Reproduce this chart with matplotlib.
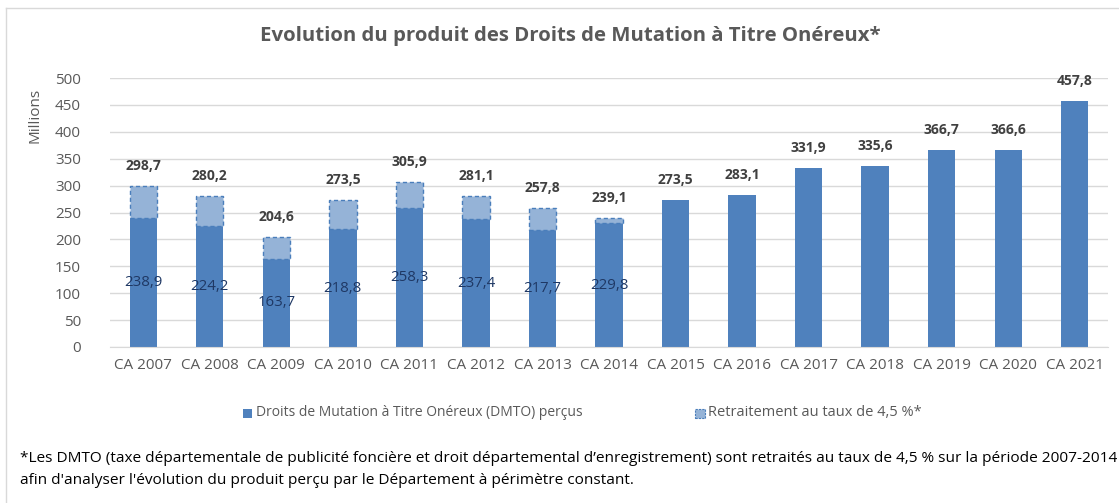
import numpy as np
import matplotlib.pyplot as plt
from matplotlib.patches import Rectangle
from matplotlib.lines import Line2D

# ----------------------------------------------------------
# DATA (millions d'euros)
# ----------------------------------------------------------
annees = ["CA 2007", "CA 2008", "CA 2009", "CA 2010", "CA 2011", "CA 2012", "CA 2013",
          "CA 2014", "CA 2015", "CA 2016", "CA 2017", "CA 2018", "CA 2019", "CA 2020", "CA 2021"]
dmto_percus = [238.9, 224.2, 163.7, 218.8, 258.3, 237.4, 217.7, 229.8,
               273.5, 283.1, 331.9, 335.6, 366.7, 366.6, 457.8]
# totaux retraités au taux de 4,5 % (2007-2014 seulement)
dmto_retraite = [298.7, 280.2, 204.6, 273.5, 305.9, 281.1, 257.8, 239.1]

DARK = "#4F81BD"
LIGHT = "#95B3D7"
GREY = "#595959"
FONT = "Open Sans"

# ----------------------------------------------------------
# PLOT
# ----------------------------------------------------------
fig = plt.figure(figsize=(11.19, 5.03), dpi=100)
W, H = 1119, 503
ax = fig.add_axes([110 / W, 1 - 347 / H, (1108 - 110) / W, (347 - 78) / H])

x = np.arange(len(annees))
bw = 0.41
n_ret = len(dmto_retraite)
supp = [t - b for t, b in zip(dmto_retraite, dmto_percus[:n_ret])]

ax.bar(x, dmto_percus, width=bw, color=DARK, zorder=2)
ax.bar(x[:n_ret], supp, bottom=dmto_percus[:n_ret], width=bw, color=LIGHT,
       edgecolor="#4A7EBB", linestyle=(0, (3, 2)), linewidth=1.0, zorder=2)

# étiquettes
for i in range(len(annees)):
    total = dmto_retraite[i] if i < n_ret else dmto_percus[i]
    ax.annotate(f"{total:.1f}".replace(".", ","), (x[i], total), xytext=(0, 20),
                textcoords="offset pixels",
                ha="center", va="center", fontsize=10, fontweight="bold",
                color="#404040", family=FONT)
    if i < n_ret:
        ax.text(x[i], dmto_percus[i] / 2, f"{dmto_percus[i]:.1f}".replace(".", ","),
                ha="center", va="center", fontsize=10.8, color="#1F3864", family=FONT,
                zorder=3)

ax.set_xlim(-0.5, len(annees) - 0.5)
ax.set_ylim(0, 500)
ax.set_yticks(range(0, 501, 50))
ax.set_xticks(x)
ax.set_xticklabels(annees)
ax.grid(axis="y", color="#D9D9D9", linewidth=1, zorder=0)
for s in ax.spines.values():
    s.set_visible(False)
ax.spines["bottom"].set_visible(True)
ax.spines["bottom"].set_color("#D9D9D9")
ax.tick_params(length=0, labelsize=11, labelcolor=GREY, pad=8)
ax.tick_params(axis="y", pad=21)
for lab in ax.get_xticklabels() + ax.get_yticklabels():
    lab.set_family(FONT)
ax.set_ylabel("Millions", fontsize=11, color=GREY, family=FONT)
ax.yaxis.set_label_coords(-0.068, 0.86)

fig.text(570 / W, 1 - 36 / H, "Evolution du produit des Droits de Mutation à Titre Onéreux*",
         ha="center", va="center", fontsize=14.7, fontweight="bold", color=GREY, family=FONT)

# légende
fig.add_artist(Rectangle((243 / W, 1 - 418 / H), 9 / W, 9 / H, transform=fig.transFigure,
                         facecolor=DARK, edgecolor="none"))
fig.text(256 / W, 1 - 413 / H, "Droits de Mutation à Titre Onéreux (DMTO) perçus",
         ha="left", va="center", fontsize=10, color=GREY, family=FONT)
fig.add_artist(Rectangle((695 / W, 1 - 418 / H), 10 / W, 9 / H, transform=fig.transFigure,
                         facecolor=LIGHT, edgecolor="#4A7EBB", linestyle=(0, (2, 1)),
                         linewidth=0.8))
fig.text(708 / W, 1 - 413 / H, "Retraitement au taux de 4,5 %*",
         ha="left", va="center", fontsize=10.5, color=GREY, family=FONT)

# note de bas de page
fig.text(20 / W, 1 - 458 / H,
         "*Les DMTO (taxe départementale de publicité foncière et droit départemental "
         "d’enregistrement) sont retraités au taux de 4,5 % sur la période 2007-2014",
         ha="left", va="center", fontsize=11.1, color="black", family=FONT)
fig.text(20 / W, 1 - 480 / H,
         "afin d'analyser l'évolution du produit perçu par le Département à périmètre constant.",
         ha="left", va="center", fontsize=11.1, color="black", family=FONT)

# cadre
fig.add_artist(Line2D([6 / W, 6 / W], [0, 1 - 8 / H], transform=fig.transFigure,
                      color="#D9D9D9", linewidth=1))
fig.add_artist(Line2D([6 / W, 1], [1 - 8 / H, 1 - 8 / H], transform=fig.transFigure,
                      color="#D9D9D9", linewidth=1))

fig.savefig("out.png", dpi=100)
